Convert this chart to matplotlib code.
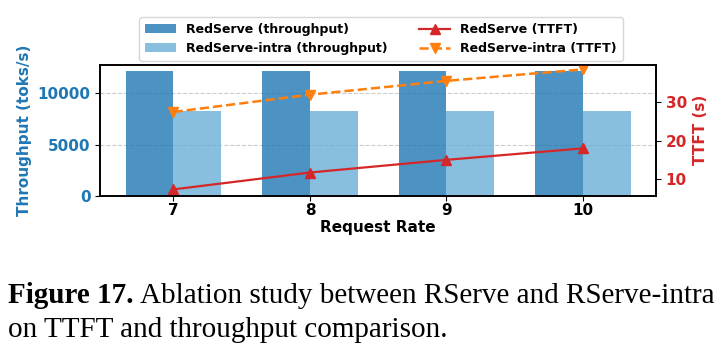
import matplotlib.pyplot as plt
import numpy as np

rates = [7, 8, 9, 10]
thr_redserve = [12180, 12180, 12180, 12180]
thr_intra = [8280, 8280, 8280, 8280]
ttft_redserve = [7.3, 11.7, 15.0, 18.0]
ttft_intra = [27.5, 32.0, 35.6, 38.6]

blue = '#1f77b4'
red = '#d62728'
orange = '#ff7f0e'

fig = plt.figure(figsize=(7.28, 3.52), dpi=100)
ax = fig.add_axes([0.138, 0.444, 0.763, 0.372])

x = np.arange(len(rates))
w = 0.35
b1 = ax.bar(x - w / 2, thr_redserve, w, color='#1f77b4', alpha=0.8, label='RedServe (throughput)')
b2 = ax.bar(x + w / 2, thr_intra, w, color='#6baed6', alpha=0.8, label='RedServe-intra (throughput)')
ax.set_ylim(0, 12790)
ax.set_yticks([0, 5000, 10000])
ax.yaxis.grid(True, linestyle='--', color='#cccccc', linewidth=0.8)
ax.set_axisbelow(True)
ax.set_xticks(x)
ax.set_xticklabels([str(r) for r in rates], fontsize=11, fontweight='bold')
ax.tick_params(axis='x', pad=2)
ax.set_xlabel('Request Rate', fontsize=11, fontweight='bold', labelpad=1)
ax.set_ylabel('Throughput (toks/s)', fontsize=11, fontweight='bold', color=blue)
ax.tick_params(axis='y', labelcolor=blue, labelsize=11)
for t in ax.get_yticklabels():
    t.set_fontweight('bold')

ax2 = ax.twinx()
l1, = ax2.plot(x, ttft_redserve, '-^', color=red, linewidth=1.6, markersize=7.5, label='RedServe (TTFT)')
l2, = ax2.plot(x, ttft_intra, '--v', color=orange, linewidth=1.8, markersize=7.5, label='RedServe-intra (TTFT)')
ax2.set_ylim(5.65, 39.8)
ax2.set_yticks([10, 20, 30])
ax2.set_ylabel('TTFT (s)', fontsize=11, fontweight='bold', color=red)
ax2.tick_params(axis='y', labelcolor=red, labelsize=11)
for t in ax2.get_yticklabels():
    t.set_fontweight('bold')

for a in (ax, ax2):
    for s in a.spines.values():
        s.set_linewidth(1.2)

ax.legend([b1, b2, l1, l2],
          [b1.get_label(), b2.get_label(), l1.get_label(), l2.get_label()],
          loc='lower center', bbox_to_anchor=(0.505, 1.03), ncol=2,
          prop={'weight': 'bold', 'size': 9}, frameon=True, borderaxespad=0,
          columnspacing=2.5, handlelength=2.5, borderpad=0.45)

# caption
cap_font = 'Liberation Serif'
fs = 21
t1 = fig.text(0.011, 0.139, 'Figure 17.', fontsize=fs, fontweight='bold', family=cap_font)
fig.canvas.draw()
bb = t1.get_window_extent()
x_after = (bb.x1 + 6) / fig.bbox.width
fig.text(x_after, 0.139, 'Ablation study between RServe and RServe-intra',
         fontsize=fs, family=cap_font)
fig.text(0.011, 0.043, 'on TTFT and throughput comparison.', fontsize=fs, family=cap_font)

fig.savefig('out.png', dpi=100)
